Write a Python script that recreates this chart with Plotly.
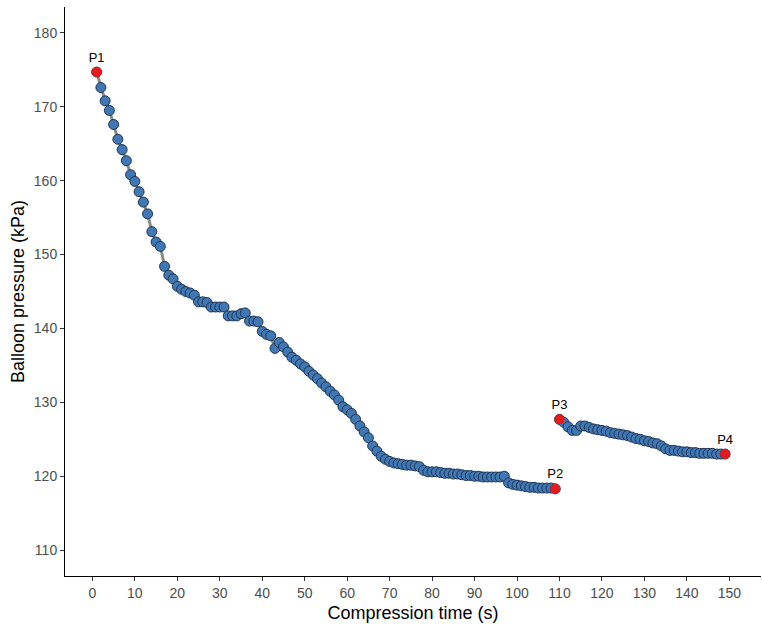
import plotly.graph_objects as go

# Segment 1 (P1 -> P2)
time_seg1 = list(range(1, 110))
pressure_seg1 = [
    174.7, 172.6, 170.8, 169.5, 167.6, 165.6, 164.2, 162.7, 160.8, 159.9,
    158.5, 157.1, 155.5, 153.1, 151.7, 151.1, 148.4, 147.2, 146.7, 145.7,
    145.3, 145.0, 144.8, 144.5, 143.6, 143.6, 143.5, 142.9, 142.9, 142.9,
    142.9, 141.7, 141.7, 141.7, 142.0, 142.1, 141.0, 141.0, 140.9, 139.6,
    139.2, 139.0, 137.3, 138.1, 137.5, 136.8, 136.1, 135.7, 135.2, 134.8,
    134.2, 133.7, 133.2, 132.6, 132.1, 131.5, 131.0, 130.3, 129.4, 129.0,
    128.5, 127.7, 126.8, 126.0, 125.2, 124.1, 123.4, 122.7, 122.3, 122.0,
    121.8, 121.7, 121.6, 121.5, 121.5, 121.4, 121.3, 120.8, 120.6, 120.6,
    120.6, 120.5, 120.4, 120.4, 120.3, 120.3, 120.2, 120.1, 120.1, 120.0,
    120.0, 119.9, 119.9, 119.9, 119.9, 119.9, 120.0, 119.1, 118.9, 118.8,
    118.7, 118.6, 118.5, 118.5, 118.4, 118.4, 118.4, 118.4, 118.3,
]

# Segment 2 (P3 -> P4)
time_seg2 = list(range(110, 150))
pressure_seg2 = [
    127.7, 127.3, 126.7, 126.2, 126.2, 126.8, 126.8, 126.6, 126.4, 126.3,
    126.2, 126.1, 125.9, 125.8, 125.7, 125.6, 125.5, 125.3, 125.1, 125.0,
    124.8, 124.7, 124.5, 124.4, 124.1, 123.7, 123.5, 123.5, 123.4, 123.3,
    123.3, 123.2, 123.2, 123.1, 123.1, 123.1, 123.1, 123.0, 123.0, 123.0,
]

key_labels = ["P1", "P2", "P3", "P4"]
key_time = [time_seg1[0], time_seg1[-1], time_seg2[0], time_seg2[-1]]
key_pressure = [pressure_seg1[0], pressure_seg1[-1], pressure_seg2[0], pressure_seg2[-1]]

x_ticks = list(range(0, 151, 10))
y_ticks = list(range(110, 181, 10))

FONT = "Liberation Sans, Arial, sans-serif"

fig = go.Figure()
for tx, py in [(time_seg1, pressure_seg1), (time_seg2, pressure_seg2)]:
    fig.add_trace(go.Scatter(
        x=tx, y=py, mode="lines",
        line=dict(color="#8a8a8a", width=3),
        hoverinfo="skip", showlegend=False,
    ))
for tx, py in [(time_seg1, pressure_seg1), (time_seg2, pressure_seg2)]:
    fig.add_trace(go.Scatter(
        x=tx, y=py, mode="markers",
        marker=dict(size=10, color="#3f78b5", line=dict(color="#1f3550", width=1)),
        showlegend=False,
    ))
fig.add_trace(go.Scatter(
    x=key_time, y=key_pressure, mode="markers+text",
    text=key_labels, textposition="top center",
    textfont=dict(family=FONT, size=13, color="#000000"),
    marker=dict(size=10, color="#e8191b", line=dict(color="#e8191b", width=0)),
    showlegend=False,
))

fig.update_layout(
    width=762, height=628,
    margin=dict(l=65, r=1, t=7, b=52),
    paper_bgcolor="white", plot_bgcolor="white",
    font=dict(family=FONT),
    showlegend=False,
    xaxis=dict(
        range=[-6.45, 157.45], tickvals=x_ticks,
        showgrid=False, zeroline=False,
        showline=True, linecolor="#000000", linewidth=1,
        ticks="outside", ticklen=4, tickcolor="#333333", tickwidth=1,
        tickfont=dict(family=FONT, size=14, color="#4d4d4d"),
        title=dict(text="Compression time (s)", font=dict(family=FONT, size=18, color="#000000"), standoff=6),
    ),
    yaxis=dict(
        range=[106.5, 183.5], tickvals=y_ticks,
        showgrid=False, zeroline=False,
        showline=True, linecolor="#000000", linewidth=1,
        ticks="outside", ticklen=4, tickcolor="#333333", tickwidth=1,
        tickfont=dict(family=FONT, size=14, color="#4d4d4d"),
        title=dict(text="Balloon pressure (kPa)", font=dict(family=FONT, size=18, color="#000000"), standoff=4),
    ),
)

fig.write_html("out.html")
